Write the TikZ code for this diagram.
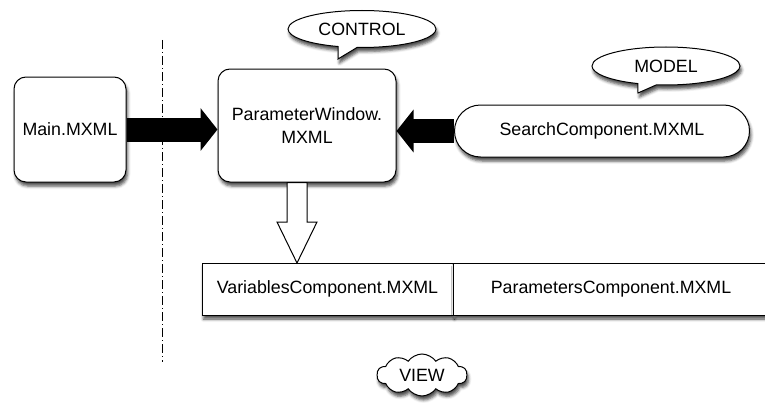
\documentclass[tikz,border=0pt]{standalone}
\usepackage{fontspec}
\setmainfont{Liberation Sans}
\usetikzlibrary{arrows.meta,shapes.callouts,shapes.symbols,shadows.blur}
\newcommand{\fatArrow}[2] {
    \draw[line width=24pt,-{Triangle[length=17pt,width=42pt]}]
        (#1) -- (#1 -| #2);
}
\tikzset{
    shade/.style={blur shadow={shadow xshift=1.5pt,shadow yshift=-4pt,
        shadow blur radius=3pt,shadow opacity=70}},
    box/.style={draw,line width=1pt,fill=white,inner sep=0pt,shade},
    bubble/.style={box,ellipse callout,minimum width=148pt},
}

\begin{document}
\begin{tikzpicture}[x=1pt,y=-1pt,font=\fontsize{17.8}{23}\selectfont]
        \useasboundingbox (0,0) rectangle (765,404);
        \clip (0,0) rectangle (765,404);
        \draw[line width=1pt,dash pattern=on 9pt off 3pt on 1pt off 3pt]
            (162,40) -- (162,362);
        \node[box,rounded corners=12pt,minimum width=112pt,minimum height=105pt]
            (main) at (70,129.5) {Main.MXML};
        \node[box,rounded corners=12pt,minimum width=178pt,minimum height=113pt,
            align=center]
            (pw) at (307,125.5) {ParameterWindow.\\MXML};
        \node[box,rounded corners=26pt,minimum width=295pt,minimum height=52pt]
            (search) at (602,131) {SearchComponent.MXML};
        \node[box,minimum width=251pt,minimum height=52pt]
            (vars) at (327.5,289) {VariablesComponent.MXML};
        \node[box,minimum width=316pt,minimum height=52pt]
            (params) at (611,289) {ParametersComponent.MXML};
        \coordinate (ctrltip) at (338,59);
        \coordinate (modeltip) at (638,93);
        \node[bubble,minimum height=37pt,callout absolute pointer={(ctrltip)}]
            (control) at (362,29) {CONTROL};
        \node[bubble,minimum height=38pt,callout absolute pointer={(modeltip)}]
            (model) at (666,66) {MODEL};
        \node[box,cloud,cloud puffs=10,cloud puff arc=110,cloud ignores aspect,
            minimum width=90pt,minimum height=42pt]
            (view) at (422,375) {VIEW};
        \fatArrow{main.east}{pw.west}
        \fatArrow{search.west}{pw.east}
        \coordinate (wtip) at (297,263);
        \coordinate (whead) at (297,222);
        \coordinate (wtop) at (wtip |- pw.south);
        \draw[line width=1pt,fill=white,line join=miter]
            (wtip) -- ([xshift=-20pt]whead) -- ([xshift=-10pt]whead)
            -- ([xshift=-10pt]wtop) -- ([xshift=10pt]wtop)
            -- ([xshift=10pt]whead) -- ([xshift=20pt]whead) -- cycle;
    \end{tikzpicture}
\end{document}
